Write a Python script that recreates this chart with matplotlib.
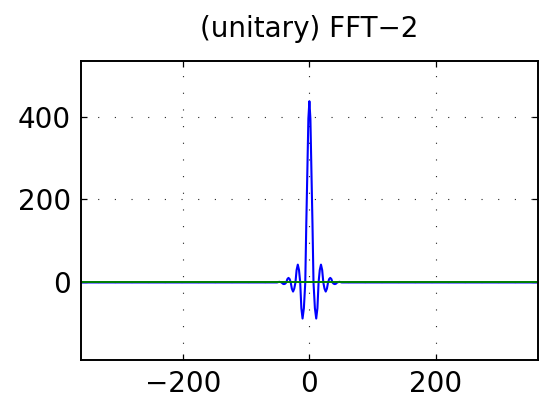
import numpy as np
import matplotlib
matplotlib.use("Agg")
import matplotlib.pyplot as plt

freq = [-361, -51, -49, -47.5, -46, -44, -42, -40.2, -38.3, -36.5, -34.8, -33, -31.2,
        -29.5, -27.7, -25.8, -23.9, -22, -20.2, -18.3, -16.4, -14.5, -12.7, -10.8,
        -8.7, -6.5, -4.9, -3.2, -1.6, 0, 1.6, 3.2, 4.9, 6.5, 8.7, 10.8, 12.7, 14.5,
        16.4, 18.3, 20.2, 22, 23.9, 25.8, 27.7, 29.5, 31.2, 33, 34.8, 36.5, 38.3,
        40.2, 42, 44, 46, 47.5, 49, 51, 361]
real_part = [0, 0, 1, 1.5, 1, 0, -3, -4, -3, 0, 8, 11, 8,
             0, -15, -22, -15, 0, 30, 43, 30, 0, -62, -87,
             -62, 0, 140, 270, 395, 437, 395, 270, 140, 0, -62, -87, -62, 0,
             30, 43, 30, 0, -15, -22, -15, 0, 8, 11, 8, 0, -3,
             -4, -3, 0, 1, 1.5, 1, 0, 0]
imag_part = [0] * len(freq)

x_ticks = [-200, 0, 200]
y_ticks = [0, 200, 400]
title = "(unitary) FFT\u22122"

plt.rcParams['font.family'] = ['DejaVu Sans']

fig = plt.figure(figsize=(5.39, 4.03), dpi=100)
ax = fig.add_axes([0.150, 0.1067, 0.848, 0.742])

ax.plot(freq, real_part, color='#0000ff', lw=1.5)
ax.plot(freq, imag_part, color='#008000', lw=1.4)

ax.set_xlim(-361, 361)
ax.set_ylim(-187, 534)
ax.set_xticks(x_ticks)
ax.set_yticks(y_ticks)
ax.set_xticklabels([f"{t}".replace('-', '\u2212') for t in x_ticks])
ax.set_yticklabels([f"{t}" for t in y_ticks])

ax.grid(True, color='#222222', linestyle=(0, (1, 14)), linewidth=0.8)
ax.tick_params(direction='in', length=4, width=0.9, top=True, right=True,
               labelsize=20)
ax.tick_params(axis='x', pad=7)
ax.tick_params(axis='y', pad=7)
for sp in ax.spines.values():
    sp.set_linewidth(1.4)

ax.set_title(title, fontsize=20, pad=17)

fig.savefig("out.png", dpi=100)
